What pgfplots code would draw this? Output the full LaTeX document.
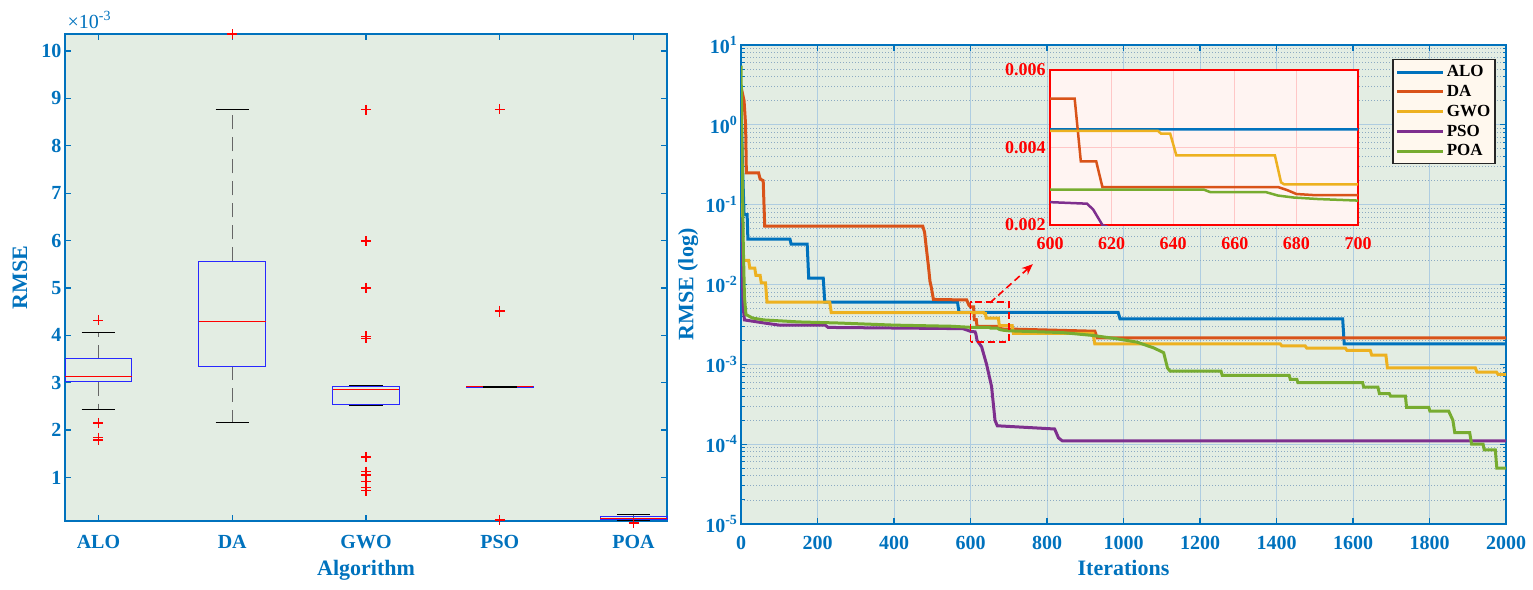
\documentclass[border=0pt]{standalone}
\usepackage{fontspec}
\setmainfont{Liberation Serif}
\usepackage{pgfplots}
\pgfplotsset{compat=1.18}
\usepackage{pgfplotstable}
\usepgfplotslibrary{statistics}
\usetikzlibrary{arrows.meta}

\definecolor{axblue}{RGB}{0,114,189}
\definecolor{bgg}{RGB}{227,237,227}
\definecolor{insbg}{RGB}{255,244,242}
\definecolor{legbg}{RGB}{255,248,238}
\definecolor{gridmaj}{RGB}{175,205,225}
\definecolor{gridmin}{RGB}{140,170,195}
\definecolor{boxblue}{RGB}{40,40,255}
\definecolor{outred}{RGB}{255,0,0}
\definecolor{cALO}{RGB}{0,114,189}
\definecolor{cDA}{RGB}{217,83,25}
\definecolor{cGWO}{RGB}{237,177,32}
\definecolor{cPSO}{RGB}{126,47,142}
\definecolor{cPOA}{RGB}{119,172,48}

\newcommand{\tickfont}{\bfseries\fontsize{20}{22}\selectfont}
\newcommand{\labfont}{\bfseries\fontsize{22}{24}\selectfont}
\newcommand{\legfont}{\bfseries\fontsize{17}{19}\selectfont}
\newcommand{\insfont}{\bfseries\fontsize{18}{20}\selectfont}

% box: position, lower whisker, Q1, median, Q3, upper whisker
\newcommand{\bx}[6]{%
  \addplot[draw=boxblue, line width=1pt, mark=none,
    boxplot prepared={draw position=#1, lower whisker=#2, lower quartile=#3,
      median=#4, upper quartile=#5, upper whisker=#6,
      box extend=0.5, whisker extend=0}]
    coordinates {};
  \addplot[draw=black, line width=1pt, mark=none,
    boxplot prepared={draw position=#1, lower whisker=#2, lower quartile=#2,
      median=#4, upper quartile=#6, upper whisker=#6,
      box extend=0.5, whisker extend=0.25,
      every box/.style={draw=none}, every median/.style={draw=none},
      every whisker/.style={draw=black, solid, line width=1pt}}]
    coordinates {};
}

% outliers of the box plot (position, RMSE x 1e-3)
\pgfplotstableread{
pos val
1 4.32
1 2.15
1 1.84
1 1.79
2 10.36
3 8.76
3 5.99
3 5.0
3 3.98
3 3.94
3 1.43
3 1.12
3 1.05
3 0.91
3 0.79
3 0.72
4 8.77
4 4.5
4 4.52
4 0.1
5 0.04
}\outl

% convergence curves (iteration, RMSE)
\pgfplotstableread{
it v
0 1.5
4 0.3
8 0.075
16 0.075
18 0.037
128 0.037
131 0.032
173 0.032
177 0.012
215 0.012
219 0.006
566 0.006
570 0.00447
986 0.00447
991 0.0037
1573 0.0037
1577 0.0018
2000 0.0018
}\ALO

\pgfplotstableread{
it v
0 3.0
8 2.0
12 1.0
14 0.25
46 0.25
50 0.21
58 0.2
62 0.054
475 0.054
480 0.045
484 0.03
490 0.017
494 0.011
498 0.009
503 0.0065
590 0.0064
596 0.0055
600 0.00526
608 0.00526
610 0.00364
615 0.00364
617 0.00298
674 0.00298
677 0.0029
680 0.0028
686 0.00277
700 0.00277
925 0.0026
931 0.00215
2000 0.00215
}\DA

\pgfplotstableread{
it v
0 0.8
3 0.1
6 0.02
20 0.02
23 0.016
36 0.016
39 0.013
50 0.013
53 0.0105
64 0.0105
68 0.006
232 0.006
236 0.00443
635 0.00443
636 0.00436
639 0.00436
641 0.0038
673 0.0038
675 0.0031
676 0.00305
709 0.00305
712 0.00245
920 0.00245
925 0.0018
1410 0.0018
1414 0.0017
1475 0.0017
1479 0.0016
1580 0.0016
1584 0.0015
1645 0.0015
1649 0.0013
1686 0.0013
1690 0.0009
1920 0.0009
1924 0.0008
1975 0.0008
1979 0.00075
2000 0.00075
}\GWO

\pgfplotstableread{
it v
0 0.07
3 0.015
6 0.005
9 0.0036
60 0.0033
100 0.0031
220 0.0031
228 0.0029
580 0.0028
590 0.0027
600 0.00259
612 0.00255
614 0.0024
617 0.002
629 0.00166
642 0.001
655 0.00053
664 0.0002
670 0.00017
820 0.000155
830 0.00012
840 0.00011
2000 0.00011
}\PSO

\pgfplotstableread{
it v
0 5.5
3 0.4
6 0.03
9 0.007
13 0.0042
30 0.0038
60 0.0036
150 0.0034
250 0.0033
400 0.0031
550 0.003
600 0.00291
650 0.00291
652 0.00285
670 0.00285
674 0.00276
679 0.00271
687 0.00267
700 0.00263
840 0.0025
920 0.0023
980 0.0021
1035 0.0019
1080 0.0016
1105 0.0014
1115 0.0009
1122 0.00082
1255 0.00082
1258 0.00073
1433 0.00073
1436 0.00065
1453 0.00065
1456 0.00059
1625 0.00059
1628 0.00052
1665 0.00052
1669 0.00043
1695 0.00043
1698 0.0004
1737 0.0004
1740 0.00029
1798 0.00029
1801 0.00026
1850 0.00026
1861 0.0002
1866 0.00014
1905 0.00014
1910 0.0001
1940 0.0001
1943 0.000085
1972 0.000085
1976 0.00005
2000 0.00005
}\POA

\begin{document}
\begin{tikzpicture}
\useasboundingbox (0,0) rectangle (1533pt,-589pt);

% ---------- left: box plot ----------
\begin{axis}[
  at={(65pt,-521pt)}, anchor=south west, scale only axis,
  width=602pt, height=487pt,
  xmin=0.75, xmax=5.25, ymin=0.08, ymax=10.36,
  xtick={1,2,3,4,5}, xticklabels={ALO,DA,GWO,PSO,POA},
  ytick={1,2,...,10},
  tick align=inside, major tick length=6pt,
  axis line style={axblue, line width=1.2pt},
  tick style={axblue, line width=1.2pt},
  tick label style={font=\tickfont, text=axblue},
  xticklabel style={yshift=-11pt},
  /pgf/number format/assume math mode=true,
  axis background/.style={fill=bgg},
  xlabel={Algorithm}, ylabel={RMSE},
  label style={font=\labfont, text=axblue},
  xlabel style={at={(axis description cs:0.5,-0.111)}, anchor=base},
  ylabel style={at={(axis description cs:-0.075,0.5)}, anchor=center},
  clip=false,
  boxplot/draw direction=y,
  boxplot/every whisker/.style={draw=black!60, line width=1.1pt, dash pattern=on 14pt off 8pt},
  boxplot/every median/.style={draw=red, line width=1pt},
]
\bx{1}{2.44}{3.02}{3.12}{3.51}{4.06}
\bx{2}{2.15}{3.35}{4.29}{5.56}{8.76}
\bx{3}{2.51}{2.54}{2.86}{2.91}{2.95}
\bx{4}{2.90}{2.905}{2.91}{2.915}{2.92}
\bx{5}{0.10}{0.11}{0.13}{0.17}{0.21}
\addplot[only marks, color=outred, mark=+, mark size=5pt,
  mark options={draw=outred, solid, line width=1.2pt}]
  table[x=pos, y=val] {\outl};
\node[anchor=base west, inner sep=0pt, yshift=6pt, text=axblue,
  font=\fontsize{20}{22}\selectfont] at (rel axis cs:0.004,1) {×10\textsuperscript{-3}};
\end{axis}

% ---------- right: convergence ----------
\begin{axis}[
  at={(741pt,-524pt)}, anchor=south west, scale only axis,
  width=765pt, height=479pt,
  xmin=0, xmax=2000, ymode=log, ymin=1e-5, ymax=10,
  xtick={0,200,...,2000},
  ytick={1e-5,1e-4,1e-3,1e-2,1e-1,1,10},
  yticklabels={10\textsuperscript{-5},10\textsuperscript{-4},10\textsuperscript{-3},10\textsuperscript{-2},10\textsuperscript{-1},10\textsuperscript{0},10\textsuperscript{1}},
  /pgf/number format/set thousands separator={},
  /pgf/number format/assume math mode=true,
  tick align=inside, major tick length=6pt, minor tick length=3.5pt,
  axis line style={axblue, line width=1.2pt},
  tick style={axblue, line width=1.2pt},
  minor tick style={axblue, line width=1pt},
  tick label style={font=\tickfont, text=axblue},
  xticklabel style={yshift=-9pt},
  axis background/.style={fill=bgg},
  xmajorgrids, ymajorgrids, yminorgrids,
  major grid style={solid, draw=gridmaj, line width=0.8pt},
  minor grid style={draw=gridmin, line width=0.9pt, dash pattern=on 1pt off 2pt},
  xlabel={Iterations}, ylabel={RMSE (log)},
  label style={font=\labfont, text=axblue},
  xlabel style={at={(axis description cs:0.5,-0.1065)}, anchor=base},
  ylabel style={at={(axis description cs:-0.069,0.5)}, anchor=center},
  legend style={at={(0.851,0.971)}, anchor=north west, fill=legbg,
    draw=black!85, line width=1.5pt, font=\legfont, inner xsep=3pt, inner ysep=4pt,
    row sep=3pt, cells={anchor=west}},
  legend image code/.code={\draw[#1, line width=3pt] (0pt,0pt) -- (46pt,0pt);},
]
\addplot[cALO, line width=3pt] table[x=it, y=v] {\ALO};
\addplot[cDA, line width=3pt] table[x=it, y=v] {\DA};
\addplot[cGWO, line width=3pt] table[x=it, y=v] {\GWO};
\addplot[cPSO, line width=3pt] table[x=it, y=v] {\PSO};
\addplot[cPOA, line width=3pt] table[x=it, y=v] {\POA};
\legend{ALO,DA,GWO,PSO,POA}
\draw[red, line width=1.6pt, dash pattern=on 7pt off 4pt]
  (axis cs:600,0.0019) rectangle (axis cs:700,0.006);
\draw[red, line width=1.6pt, dash pattern=on 7pt off 4pt, -{Stealth[length=11pt,width=9pt]}]
  (axis cs:651,0.0059) -- (axis cs:763,0.018);
\end{axis}

% ---------- inset: iterations 600-700 (y in units of 1e-3) ----------
\begin{axis}[
  at={(1050pt,-225pt)}, anchor=south west, scale only axis,
  width=308pt, height=155pt,
  xmin=600, xmax=700, ymin=2, ymax=6,
  restrict y to domain=0:100,
  xtick={600,620,...,700},
  ytick={2,4,6}, yticklabels={0.002,0.004,0.006},
  /pgf/number format/assume math mode=true,
  axis background/.style={fill=insbg},
  axis line style={red, line width=1.2pt},
  tick style={draw=none},
  grid=major, major grid style={draw=red!22, line width=0.9pt},
  tick label style={font=\insfont, text=red},
  xticklabel style={yshift=-9pt},
  yticklabel style={xshift=-1pt},
]
\addplot[cALO, line width=2.5pt] table[x=it, y expr=\thisrow{v}*1000] {\ALO};
\addplot[cDA, line width=2.5pt] table[x=it, y expr=\thisrow{v}*1000] {\DA};
\addplot[cGWO, line width=2.5pt] table[x=it, y expr=\thisrow{v}*1000] {\GWO};
\addplot[cPSO, line width=2.5pt] table[x=it, y expr=\thisrow{v}*1000] {\PSO};
\addplot[cPOA, line width=2.5pt] table[x=it, y expr=\thisrow{v}*1000] {\POA};
\end{axis}
\end{tikzpicture}
\end{document}
